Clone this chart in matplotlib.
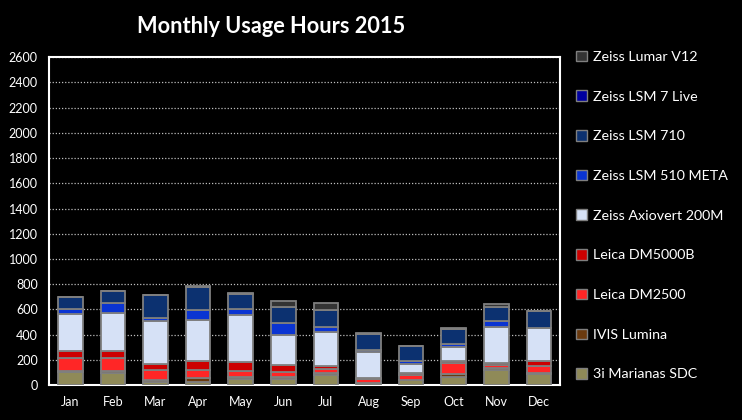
import numpy as np
import matplotlib
matplotlib.use("Agg")
import matplotlib.pyplot as plt
from matplotlib.patches import Patch

plt.rcParams['font.family'] = ['Lato', 'DejaVu Sans']

months = ['Jan', 'Feb', 'Mar', 'Apr', 'May', 'Jun',
          'Jul', 'Aug', 'Sep', 'Oct', 'Nov', 'Dec']

# stacked from bottom to top
marianas = [105, 97, 25, 28, 50, 50, 83, 14, 38, 62, 122, 88]
ivis = [10, 18, 18, 32, 14, 14, 10, 6, 6, 26, 12, 12]
dm2500 = [97, 102, 76, 57, 50, 44, 36, 30, 36, 86, 22, 54]
dm5000b = [55, 56, 46, 76, 67, 51, 24, 10, 15, 20, 20, 38]
axiovert = [293, 296, 345, 322, 377, 238, 268, 200, 72, 110, 288, 258]
lsm510 = [47, 80, 24, 78, 44, 96, 38, 22, 22, 20, 46, 0]
lsm710 = [88, 95, 184, 188, 122, 124, 140, 124, 118, 118, 112, 136]
lsm7 = [0, 0, 0, 0, 0, 0, 0, 0, 0, 0, 0, 0]
lumar = [0, 0, 0, 8, 5, 52, 54, 8, 6, 12, 18, 5]

series = [
    ('3i Marianas SDC', marianas, '#8f8a58'),
    ('IVIS Lumina', ivis, '#6b3a0e'),
    ('Leica DM2500', dm2500, '#ff2626'),
    ('Leica DM5000B', dm5000b, '#cc0000'),
    ('Zeiss Axiovert 200M', axiovert, '#d6e1f6'),
    ('Zeiss LSM 510 META', lsm510, '#0a34d2'),
    ('Zeiss LSM 710', lsm710, '#0c3170'),
    ('Zeiss LSM 7 Live', lsm7, '#0000a0'),
    ('Zeiss Lumar V12', lumar, '#333333'),
]

fig = plt.figure(figsize=(7.42, 4.2), dpi=100, facecolor='black')
ax = fig.add_axes([0.066, 0.083, 0.689, 0.781], facecolor='black')

x = np.arange(len(months))
bottom = np.zeros(len(months))
for name, vals, col in series:
    vals = np.array(vals, dtype=float)
    ax.bar(x, vals, 0.58, bottom=bottom, color=col, edgecolor='#7f7f7f',
           linewidth=1.3, zorder=3)
    bottom += vals

ax.set_xlim(-0.5, len(months) - 0.5)
ax.set_ylim(0, 2600)
ax.set_yticks(np.arange(0, 2601, 200))
ax.set_xticks(x)
ax.set_xticklabels(months)
ax.tick_params(colors='white', labelsize=9, length=0, pad=8)
ax.yaxis.grid(True, color='#bfbfbf', linestyle=(0, (1, 1.5)), linewidth=0.9)
ax.set_axisbelow(True)
for sp in ax.spines.values():
    sp.set_color('white')
    sp.set_linewidth(1.5)

fig.text(0.365, 0.937, 'Monthly Usage Hours 2015', color='white',
         fontsize=15.7, fontweight='bold', ha='center', va='center')

handles = [Patch(facecolor=col, edgecolor='#7f7f7f', label=name)
           for name, vals, col in series[::-1]]
leg = fig.legend(handles=handles, loc='upper left', bbox_to_anchor=(0.759, 0.91),
                 frameon=False, labelcolor='white', fontsize=10.3,
                 handlelength=0.75, handleheight=0.75, handletextpad=0.4,
                 labelspacing=1.92)

fig.savefig('out.png', dpi=100, facecolor='black')
